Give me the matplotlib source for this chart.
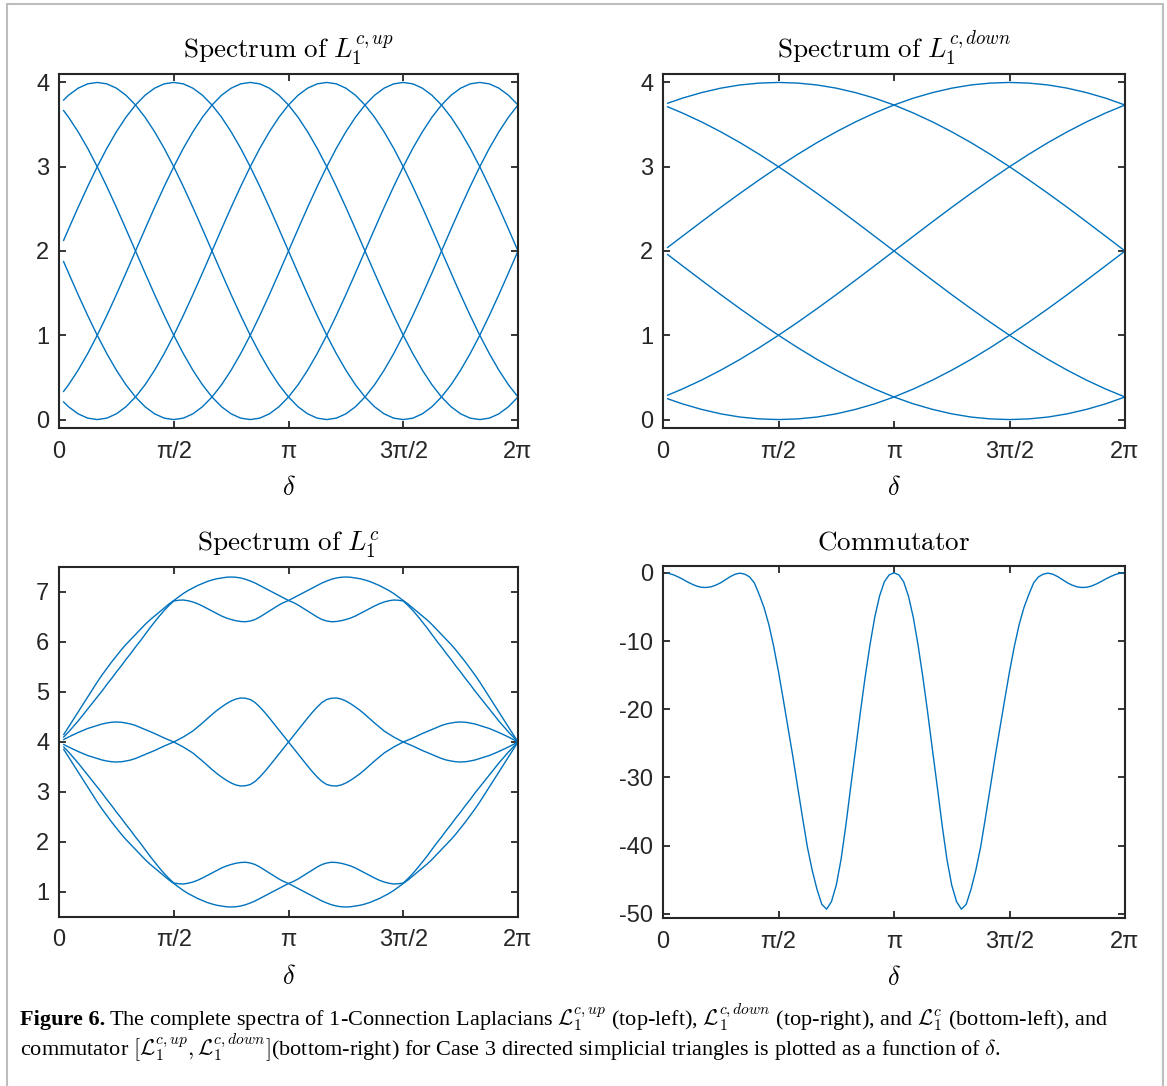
import numpy as np
import matplotlib
matplotlib.use('Agg')
import matplotlib.pyplot as plt
from matplotlib.patches import Rectangle

plt.rcParams['mathtext.fontset'] = 'cm'
plt.rcParams['font.family'] = ['Liberation Sans', 'DejaVu Sans']

PI = np.pi
# ---------------- data ----------------
# delta samples (first sample slightly above 0, as in the source)
delta_fine = np.array([0.063] + [k * PI / 24 for k in range(1, 49)])
delta_coarse = np.array([0.063] + [k * PI / 12 for k in range(1, 25)])
delta_dense = np.array([k * PI / 48 for k in range(1, 97)])

# Spectrum of L1^{c,up}
up0 = [3.791, 3.848, 3.932, 3.983, 4.000, 3.983, 3.932, 3.848, 3.732, 3.587, 3.414, 3.218, 3.000, 2.765, 2.518, 2.261, 2.000, 1.739, 1.482, 1.235, 1.000, 0.783, 0.586, 0.413, 0.268, 0.152, 0.068, 0.017, 0.000, 0.017, 0.068, 0.152, 0.268, 0.413, 0.586, 0.783, 1.000, 1.235, 1.482, 1.739, 2.000, 2.261, 2.518, 2.765, 3.000, 3.218, 3.414, 3.587, 3.732]
up1 = [2.126, 2.261, 2.518, 2.765, 3.000, 3.218, 3.414, 3.587, 3.732, 3.848, 3.932, 3.983, 4.000, 3.983, 3.932, 3.848, 3.732, 3.587, 3.414, 3.218, 3.000, 2.765, 2.518, 2.261, 2.000, 1.739, 1.482, 1.235, 1.000, 0.783, 0.586, 0.413, 0.268, 0.152, 0.068, 0.017, 0.000, 0.017, 0.068, 0.152, 0.268, 0.413, 0.586, 0.783, 1.000, 1.235, 1.482, 1.739, 2.000]
up2 = [0.334, 0.413, 0.586, 0.783, 1.000, 1.235, 1.482, 1.739, 2.000, 2.261, 2.518, 2.765, 3.000, 3.218, 3.414, 3.587, 3.732, 3.848, 3.932, 3.983, 4.000, 3.983, 3.932, 3.848, 3.732, 3.587, 3.414, 3.218, 3.000, 2.765, 2.518, 2.261, 2.000, 1.739, 1.482, 1.235, 1.000, 0.783, 0.586, 0.413, 0.268, 0.152, 0.068, 0.017, 0.000, 0.017, 0.068, 0.152, 0.268]
up3 = [0.209, 0.152, 0.068, 0.017, 0.000, 0.017, 0.068, 0.152, 0.268, 0.413, 0.586, 0.783, 1.000, 1.235, 1.482, 1.739, 2.000, 2.261, 2.518, 2.765, 3.000, 3.218, 3.414, 3.587, 3.732, 3.848, 3.932, 3.983, 4.000, 3.983, 3.932, 3.848, 3.732, 3.587, 3.414, 3.218, 3.000, 2.765, 2.518, 2.261, 2.000, 1.739, 1.482, 1.235, 1.000, 0.783, 0.586, 0.413, 0.268]
up4 = [1.874, 1.739, 1.482, 1.235, 1.000, 0.783, 0.586, 0.413, 0.268, 0.152, 0.068, 0.017, 0.000, 0.017, 0.068, 0.152, 0.268, 0.413, 0.586, 0.783, 1.000, 1.235, 1.482, 1.739, 2.000, 2.261, 2.518, 2.765, 3.000, 3.218, 3.414, 3.587, 3.732, 3.848, 3.932, 3.983, 4.000, 3.983, 3.932, 3.848, 3.732, 3.587, 3.414, 3.218, 3.000, 2.765, 2.518, 2.261, 2.000]
up5 = [3.666, 3.587, 3.414, 3.218, 3.000, 2.765, 2.518, 2.261, 2.000, 1.739, 1.482, 1.235, 1.000, 0.783, 0.586, 0.413, 0.268, 0.152, 0.068, 0.017, 0.000, 0.017, 0.068, 0.152, 0.268, 0.413, 0.586, 0.783, 1.000, 1.235, 1.482, 1.739, 2.000, 2.261, 2.518, 2.765, 3.000, 3.218, 3.414, 3.587, 3.732, 3.848, 3.932, 3.983, 4.000, 3.983, 3.932, 3.848, 3.732]

# Spectrum of L1^{c,down}
dn1 = [0.289, 0.362, 0.468, 0.586, 0.714, 0.853, 1.000, 1.155, 1.316, 1.482, 1.653, 1.826, 2.000, 2.174, 2.347, 2.518, 2.684, 2.845, 3.000, 3.147, 3.286, 3.414, 3.532, 3.638, 3.732]
dn2 = [3.753, 3.813, 3.879, 3.932, 3.970, 3.992, 4.000, 3.992, 3.970, 3.932, 3.879, 3.813, 3.732, 3.638, 3.532, 3.414, 3.286, 3.147, 3.000, 2.845, 2.684, 2.518, 2.347, 2.174, 2.000]
dn3 = [1.958, 1.826, 1.653, 1.482, 1.316, 1.155, 1.000, 0.853, 0.714, 0.586, 0.468, 0.362, 0.268, 0.187, 0.121, 0.068, 0.030, 0.008, 0.000, 0.008, 0.030, 0.068, 0.121, 0.187, 0.268]
dn4 = [0.247, 0.187, 0.121, 0.068, 0.030, 0.008, 0.000, 0.008, 0.030, 0.068, 0.121, 0.187, 0.268, 0.362, 0.468, 0.586, 0.714, 0.853, 1.000, 1.155, 1.316, 1.482, 1.653, 1.826, 2.000]
dn5 = [2.042, 2.174, 2.347, 2.518, 2.684, 2.845, 3.000, 3.147, 3.286, 3.414, 3.532, 3.638, 3.732, 3.813, 3.879, 3.932, 3.970, 3.992, 4.000, 3.992, 3.970, 3.932, 3.879, 3.813, 3.732]
dn6 = [3.711, 3.638, 3.532, 3.414, 3.286, 3.147, 3.000, 2.845, 2.684, 2.518, 2.347, 2.174, 2.000, 1.826, 1.653, 1.482, 1.316, 1.155, 1.000, 0.853, 0.714, 0.586, 0.468, 0.362, 0.268]

# Spectrum of L1^c (sorted eigenvalues, samples every pi/48)
lc6 = [4.15, 4.30, 4.45, 4.60, 4.75, 4.90, 5.05, 5.20, 5.34, 5.47, 5.60, 5.72, 5.84, 5.95, 6.05, 6.15,
       6.25, 6.35, 6.44, 6.52, 6.60, 6.68, 6.76, 6.83, 6.90, 6.97, 7.03, 7.08, 7.13, 7.17, 7.21, 7.24,
       7.265, 7.28, 7.295, 7.30, 7.295, 7.28, 7.255, 7.22, 7.18, 7.13, 7.08, 7.03, 6.98, 6.93, 6.88, 6.83,
       6.88, 6.93, 6.98, 7.03, 7.08, 7.13, 7.18, 7.22, 7.255, 7.28, 7.295, 7.30, 7.295, 7.28, 7.265, 7.24,
       7.21, 7.17, 7.13, 7.08, 7.03, 6.97, 6.90, 6.83, 6.76, 6.68, 6.60, 6.52, 6.44, 6.35, 6.25, 6.15,
       6.05, 5.95, 5.84, 5.72, 5.60, 5.47, 5.34, 5.20, 5.05, 4.90, 4.75, 4.60, 4.45, 4.30, 4.15, 4.00]
lc5 = [4.10, 4.20, 4.31, 4.42, 4.54, 4.66, 4.78, 4.90, 5.02, 5.15, 5.27, 5.40, 5.52, 5.65, 5.77, 5.90,
       6.02, 6.15, 6.28, 6.40, 6.52, 6.63, 6.73, 6.82, 6.835, 6.84, 6.825, 6.80, 6.765, 6.72, 6.67, 6.62,
       6.57, 6.52, 6.48, 6.45, 6.425, 6.41, 6.405, 6.42, 6.45, 6.50, 6.56, 6.62, 6.68, 6.74, 6.79, 6.83,
       6.79, 6.74, 6.68, 6.62, 6.56, 6.50, 6.45, 6.42, 6.405, 6.41, 6.425, 6.45, 6.48, 6.52, 6.57, 6.62,
       6.67, 6.72, 6.765, 6.80, 6.825, 6.84, 6.835, 6.82, 6.73, 6.63, 6.52, 6.40, 6.28, 6.15, 6.02, 5.90,
       5.77, 5.65, 5.52, 5.40, 5.27, 5.15, 5.02, 4.90, 4.78, 4.66, 4.54, 4.42, 4.31, 4.20, 4.10, 4.00]
lc4 = [4.05, 4.10, 4.145, 4.19, 4.23, 4.27, 4.30, 4.33, 4.36, 4.38, 4.395, 4.40, 4.395, 4.38, 4.36, 4.33,
       4.29, 4.25, 4.21, 4.17, 4.125, 4.08, 4.04, 4.00, 4.05, 4.10, 4.16, 4.22, 4.30, 4.38, 4.465, 4.55,
       4.63, 4.70, 4.765, 4.82, 4.86, 4.88, 4.875, 4.85, 4.79, 4.70, 4.595, 4.48, 4.36, 4.24, 4.12, 4.00,
       4.12, 4.24, 4.36, 4.48, 4.595, 4.70, 4.79, 4.85, 4.875, 4.88, 4.86, 4.82, 4.765, 4.70, 4.63, 4.55,
       4.465, 4.38, 4.30, 4.22, 4.16, 4.10, 4.05, 4.00, 4.04, 4.08, 4.125, 4.17, 4.21, 4.25, 4.29, 4.33,
       4.36, 4.38, 4.395, 4.40, 4.395, 4.38, 4.36, 4.33, 4.30, 4.27, 4.23, 4.19, 4.145, 4.10, 4.05, 4.00]
lc3 = [3.95, 3.90, 3.855, 3.81, 3.77, 3.73, 3.70, 3.67, 3.64, 3.62, 3.605, 3.60, 3.605, 3.62, 3.64, 3.67,
       3.71, 3.75, 3.79, 3.83, 3.875, 3.92, 3.96, 4.00, 3.95, 3.90, 3.84, 3.78, 3.70, 3.62, 3.535, 3.45,
       3.37, 3.30, 3.235, 3.18, 3.14, 3.12, 3.125, 3.15, 3.21, 3.30, 3.405, 3.52, 3.64, 3.76, 3.88, 4.00,
       3.88, 3.76, 3.64, 3.52, 3.405, 3.30, 3.21, 3.15, 3.125, 3.12, 3.14, 3.18, 3.235, 3.30, 3.37, 3.45,
       3.535, 3.62, 3.70, 3.78, 3.84, 3.90, 3.95, 4.00, 3.96, 3.92, 3.875, 3.83, 3.79, 3.75, 3.71, 3.67,
       3.64, 3.62, 3.605, 3.60, 3.605, 3.62, 3.64, 3.67, 3.70, 3.73, 3.77, 3.81, 3.855, 3.90, 3.95, 4.00]
lc2 = [3.90, 3.80, 3.69, 3.58, 3.46, 3.34, 3.22, 3.10, 2.98, 2.85, 2.73, 2.60, 2.48, 2.35, 2.23, 2.10,
       1.98, 1.85, 1.72, 1.60, 1.48, 1.37, 1.27, 1.18, 1.165, 1.16, 1.175, 1.20, 1.235, 1.28, 1.33, 1.38,
       1.43, 1.48, 1.52, 1.55, 1.575, 1.59, 1.595, 1.58, 1.55, 1.50, 1.44, 1.38, 1.32, 1.26, 1.21, 1.17,
       1.21, 1.26, 1.32, 1.38, 1.44, 1.50, 1.55, 1.58, 1.595, 1.59, 1.575, 1.55, 1.52, 1.48, 1.43, 1.38,
       1.33, 1.28, 1.235, 1.20, 1.175, 1.16, 1.165, 1.18, 1.27, 1.37, 1.48, 1.60, 1.72, 1.85, 1.98, 2.10,
       2.23, 2.35, 2.48, 2.60, 2.73, 2.85, 2.98, 3.10, 3.22, 3.34, 3.46, 3.58, 3.69, 3.80, 3.90, 4.00]
lc1 = [3.85, 3.70, 3.55, 3.40, 3.25, 3.10, 2.95, 2.80, 2.66, 2.53, 2.40, 2.28, 2.16, 2.05, 1.95, 1.85,
       1.75, 1.65, 1.56, 1.48, 1.40, 1.32, 1.24, 1.17, 1.10, 1.03, 0.97, 0.92, 0.87, 0.83, 0.79, 0.76,
       0.735, 0.72, 0.705, 0.70, 0.705, 0.72, 0.745, 0.78, 0.82, 0.87, 0.92, 0.97, 1.02, 1.07, 1.12, 1.17,
       1.12, 1.07, 1.02, 0.97, 0.92, 0.87, 0.82, 0.78, 0.745, 0.72, 0.705, 0.70, 0.705, 0.72, 0.735, 0.76,
       0.79, 0.83, 0.87, 0.92, 0.97, 1.03, 1.10, 1.17, 1.24, 1.32, 1.40, 1.48, 1.56, 1.65, 1.75, 1.85,
       1.95, 2.05, 2.16, 2.28, 2.40, 2.53, 2.66, 2.80, 2.95, 3.10, 3.25, 3.40, 3.55, 3.70, 3.85, 4.00]

# Commutator (samples every pi/48)
comm = [-0.06, -0.25, -0.55, -0.9, -1.3, -1.65, -1.95, -2.12, -2.15, -2.05, -1.8, -1.45, -1.0, -0.55, -0.2, -0.05,
        -0.2, -0.6, -1.5, -3.2, -5.1, -7.6, -10.8, -14.5, -18.6, -22.8, -27.0, -31.5, -35.9, -40.2, -43.6, -46.4,
        -48.6, -49.3, -48.2, -45.8, -42.0, -37.0, -31.4, -26.0, -20.5, -15.3, -10.6, -6.5, -3.4, -1.3, -0.3, 0.0,
        -0.3, -1.3, -3.4, -6.5, -10.6, -15.3, -20.5, -26.0, -31.4, -37.0, -42.0, -45.8, -48.2, -49.3, -48.6, -46.4,
        -43.6, -40.2, -35.9, -31.5, -27.0, -22.8, -18.6, -14.5, -10.8, -7.6, -5.1, -3.2, -1.5, -0.6, -0.2, -0.05,
        -0.2, -0.55, -1.0, -1.45, -1.8, -2.05, -2.15, -2.12, -1.95, -1.65, -1.3, -0.9, -0.55, -0.25, -0.06, 0.0]

xtick_vals = [0, PI / 2, PI, 3 * PI / 2, 2 * PI]
xtick_labels = ['0', 'π/2', 'π', '3π/2', '2π']

# ---------------- figure ----------------
W, H = 1167, 1086
fig = plt.figure(figsize=(W / 100, H / 100), dpi=100)
LINE_C = '#0072BD'
AX_C = '#262626'


def px_axes(l, t, r, b):
    return fig.add_axes([l / W, 1 - b / H, (r - l) / W, (b - t) / H])


def style(ax, ylim, yticks, title):
    ax.set_xlim(0, 2 * PI)
    ax.set_ylim(*ylim)
    ax.set_xticks(xtick_vals)
    ax.set_xticklabels(xtick_labels)
    ax.set_yticks(yticks)
    ax.set_yticklabels([str(v) for v in yticks])
    ax.tick_params(direction='in', length=5, width=1.3, colors=AX_C,
                   labelsize=17, pad=7, top=True, right=True)
    ax.tick_params(axis='x', pad=9)
    for s in ax.spines.values():
        s.set_linewidth(1.5)
        s.set_color(AX_C)
    ax.set_xlabel(r'$\delta$', fontsize=19, labelpad=10)
    ax.set_title(title, fontsize=19.5, pad=12)


ax1 = px_axes(59, 74, 518, 428)
for c in (up0, up1, up2, up3, up4, up5):
    ax1.plot(delta_fine, c, color=LINE_C, lw=1.0)
style(ax1, (-0.1, 4.1), [0, 1, 2, 3, 4], r'$\mathrm{Spectrum\ of\ }L_1^{c,up}$')

ax2 = px_axes(663, 74, 1125, 428)
for c in (dn1, dn2, dn3, dn4, dn5, dn6):
    ax2.plot(delta_coarse, c, color=LINE_C, lw=1.0)
style(ax2, (-0.1, 4.1), [0, 1, 2, 3, 4], r'$\mathrm{Spectrum\ of\ }L_1^{c,down}$')

ax3 = px_axes(59, 567, 518, 917)
for c in (lc1, lc2, lc3, lc4, lc5, lc6):
    ax3.plot(delta_dense, c, color=LINE_C, lw=1.0)
style(ax3, (0.5, 7.5), [1, 2, 3, 4, 5, 6, 7], r'$\mathrm{Spectrum\ of\ }L_1^{c}$')

ax4 = px_axes(663, 566, 1125, 918)
ax4.plot(delta_dense, comm, color=LINE_C, lw=1.0)
style(ax4, (-50.6, 1.0), [-50, -40, -30, -20, -10, 0], r'$\mathrm{Commutator}$')

# frame around the figure panel
fig.add_artist(Rectangle((7 / W, -0.02), (1163 - 7) / W, 1 - 4 / H + 0.02,
                         transform=fig.transFigure, fill=False,
                         edgecolor='#bdbdbd', lw=1.5))

# caption
fig.canvas.draw()
rend = fig.canvas.get_renderer()
CAP = dict(family=['Liberation Serif', 'DejaVu Serif'], size=16, va='baseline')
t1 = fig.text(20 / W, 1 - 1025 / H, 'Figure 6.', fontweight='bold', **CAP)
bb = t1.get_window_extent(rend)
fig.text(bb.x1 / W + 4 / W, 1 - 1025 / H,
         r'The complete spectra of 1-Connection Laplacians $\mathcal{L}_1^{c,up}$ (top-left), '
         r'$\mathcal{L}_1^{c,down}$ (top-right), and $\mathcal{L}_1^{c}$ (bottom-left), and', **CAP)
fig.text(20 / W, 1 - 1056 / H,
         r'commutator $[\mathcal{L}_1^{c,up},\mathcal{L}_1^{c,down}]$(bottom-right) for Case 3 directed '
         r'simplicial triangles is plotted as a function of $\delta$.', **CAP)

fig.savefig('out.png', dpi=100)
